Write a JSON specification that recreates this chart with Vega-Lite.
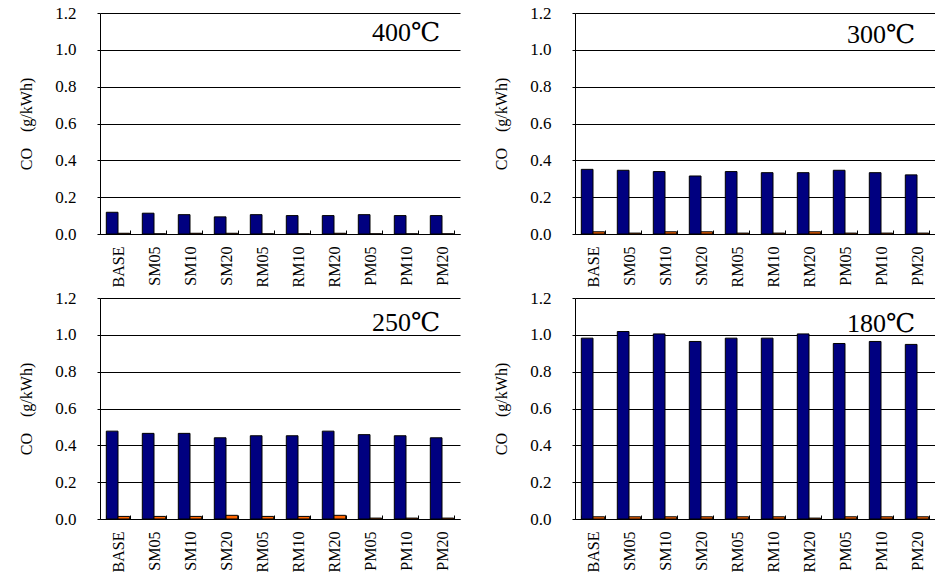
{
  "$schema": "https://vega.github.io/schema/vega-lite/v6.json",
  "padding": {"left": 18, "top": 4, "right": 0, "bottom": 0},
  "background": "white",
  "config": {
    "view": {"stroke": null},
    "font": "Liberation Serif, Times New Roman, DejaVu Serif, serif",
    "text": {"font": "Liberation Serif, Times New Roman, DejaVu Serif, serif"},
    "axisX": {
      "domainColor": "black", "domainWidth": 1, "ticks": true, "tickColor": "black", "tickBand": "extent", "tickSize": -4,
      "labelAngle": 270, "labelAlign": "right", "labelBaseline": "middle", "labelFont": "Liberation Serif, Times New Roman, DejaVu Serif, serif", "labelFontSize": 16, "labelColor": "black",
      "labelPadding": 16, "grid": false
    },
    "axisY": {
      "domainColor": "black", "domainWidth": 1, "ticks": true, "tickSize": 3, "tickColor": "black", "grid": true, "gridColor": "black", "gridOpacity": 1, "gridWidth": 1,
      "labelFont": "Liberation Serif, Times New Roman, DejaVu Serif, serif", "labelFontSize": 17, "labelColor": "black", "labelPadding": 21,
      "titleFont": "Liberation Serif, Times New Roman, DejaVu Serif, serif", "titleFontSize": 16, "titleFontWeight": "normal", "titleColor": "black", "titlePadding": 20
    }
  },
  "datasets": {
    "co": [
      {"panel": "400", "cat": "BASE", "series": "A", "value": 0.118}, {"panel": "400", "cat": "BASE", "series": "B", "value": 0.004},
      {"panel": "400", "cat": "SM05", "series": "A", "value": 0.113}, {"panel": "400", "cat": "SM05", "series": "B", "value": 0.001},
      {"panel": "400", "cat": "SM10", "series": "A", "value": 0.105}, {"panel": "400", "cat": "SM10", "series": "B", "value": 0.004},
      {"panel": "400", "cat": "SM20", "series": "A", "value": 0.093}, {"panel": "400", "cat": "SM20", "series": "B", "value": 0.004},
      {"panel": "400", "cat": "RM05", "series": "A", "value": 0.105}, {"panel": "400", "cat": "RM05", "series": "B", "value": 0.001},
      {"panel": "400", "cat": "RM10", "series": "A", "value": 0.100}, {"panel": "400", "cat": "RM10", "series": "B", "value": 0.001},
      {"panel": "400", "cat": "RM20", "series": "A", "value": 0.100}, {"panel": "400", "cat": "RM20", "series": "B", "value": 0.004},
      {"panel": "400", "cat": "PM05", "series": "A", "value": 0.105}, {"panel": "400", "cat": "PM05", "series": "B", "value": 0.001},
      {"panel": "400", "cat": "PM10", "series": "A", "value": 0.100}, {"panel": "400", "cat": "PM10", "series": "B", "value": 0.001},
      {"panel": "400", "cat": "PM20", "series": "A", "value": 0.100}, {"panel": "400", "cat": "PM20", "series": "B", "value": 0.001},

      {"panel": "300", "cat": "BASE", "series": "A", "value": 0.351}, {"panel": "300", "cat": "BASE", "series": "B", "value": 0.012},
      {"panel": "300", "cat": "SM05", "series": "A", "value": 0.346}, {"panel": "300", "cat": "SM05", "series": "B", "value": 0.005},
      {"panel": "300", "cat": "SM10", "series": "A", "value": 0.339}, {"panel": "300", "cat": "SM10", "series": "B", "value": 0.012},
      {"panel": "300", "cat": "SM20", "series": "A", "value": 0.315}, {"panel": "300", "cat": "SM20", "series": "B", "value": 0.012},
      {"panel": "300", "cat": "RM05", "series": "A", "value": 0.339}, {"panel": "300", "cat": "RM05", "series": "B", "value": 0.005},
      {"panel": "300", "cat": "RM10", "series": "A", "value": 0.333}, {"panel": "300", "cat": "RM10", "series": "B", "value": 0.005},
      {"panel": "300", "cat": "RM20", "series": "A", "value": 0.333}, {"panel": "300", "cat": "RM20", "series": "B", "value": 0.012},
      {"panel": "300", "cat": "PM05", "series": "A", "value": 0.346}, {"panel": "300", "cat": "PM05", "series": "B", "value": 0.005},
      {"panel": "300", "cat": "PM10", "series": "A", "value": 0.333}, {"panel": "300", "cat": "PM10", "series": "B", "value": 0.005},
      {"panel": "300", "cat": "PM20", "series": "A", "value": 0.321}, {"panel": "300", "cat": "PM20", "series": "B", "value": 0.005},

      {"panel": "250", "cat": "BASE", "series": "A", "value": 0.477}, {"panel": "250", "cat": "BASE", "series": "B", "value": 0.014},
      {"panel": "250", "cat": "SM05", "series": "A", "value": 0.465}, {"panel": "250", "cat": "SM05", "series": "B", "value": 0.014},
      {"panel": "250", "cat": "SM10", "series": "A", "value": 0.465}, {"panel": "250", "cat": "SM10", "series": "B", "value": 0.014},
      {"panel": "250", "cat": "SM20", "series": "A", "value": 0.441}, {"panel": "250", "cat": "SM20", "series": "B", "value": 0.020},
      {"panel": "250", "cat": "RM05", "series": "A", "value": 0.452}, {"panel": "250", "cat": "RM05", "series": "B", "value": 0.014},
      {"panel": "250", "cat": "RM10", "series": "A", "value": 0.452}, {"panel": "250", "cat": "RM10", "series": "B", "value": 0.014},
      {"panel": "250", "cat": "RM20", "series": "A", "value": 0.477}, {"panel": "250", "cat": "RM20", "series": "B", "value": 0.020},
      {"panel": "250", "cat": "PM05", "series": "A", "value": 0.458}, {"panel": "250", "cat": "PM05", "series": "B", "value": 0.005},
      {"panel": "250", "cat": "PM10", "series": "A", "value": 0.452}, {"panel": "250", "cat": "PM10", "series": "B", "value": 0.005},
      {"panel": "250", "cat": "PM20", "series": "A", "value": 0.441}, {"panel": "250", "cat": "PM20", "series": "B", "value": 0.005},

      {"panel": "180", "cat": "BASE", "series": "A", "value": 0.982}, {"panel": "180", "cat": "BASE", "series": "B", "value": 0.012},
      {"panel": "180", "cat": "SM05", "series": "A", "value": 1.018}, {"panel": "180", "cat": "SM05", "series": "B", "value": 0.012},
      {"panel": "180", "cat": "SM10", "series": "A", "value": 1.005}, {"panel": "180", "cat": "SM10", "series": "B", "value": 0.012},
      {"panel": "180", "cat": "SM20", "series": "A", "value": 0.964}, {"panel": "180", "cat": "SM20", "series": "B", "value": 0.012},
      {"panel": "180", "cat": "RM05", "series": "A", "value": 0.982}, {"panel": "180", "cat": "RM05", "series": "B", "value": 0.012},
      {"panel": "180", "cat": "RM10", "series": "A", "value": 0.982}, {"panel": "180", "cat": "RM10", "series": "B", "value": 0.012},
      {"panel": "180", "cat": "RM20", "series": "A", "value": 1.005}, {"panel": "180", "cat": "RM20", "series": "B", "value": 0.005},
      {"panel": "180", "cat": "PM05", "series": "A", "value": 0.953}, {"panel": "180", "cat": "PM05", "series": "B", "value": 0.012},
      {"panel": "180", "cat": "PM10", "series": "A", "value": 0.964}, {"panel": "180", "cat": "PM10", "series": "B", "value": 0.012},
      {"panel": "180", "cat": "PM20", "series": "A", "value": 0.948}, {"panel": "180", "cat": "PM20", "series": "B", "value": 0.012}
    ]
  },
  "columns": 2,
  "spacing": {"row": 64, "column": 115},
  "bounds": "flush",
  "concat": [
    {
      "width": 360, "height": 221,
      "layer": [
        {
          "data": {"name": "co"},
          "transform": [{"filter": "datum.panel === '400'"}],
          "mark": {"type": "bar", "stroke": "black", "strokeWidth": 1},
          "encoding": {
            "x": {"field": "cat", "type": "nominal", "scale": {"domain": ["BASE","SM05","SM10","SM20","RM05","RM10","RM20","PM05","PM10","PM20"], "paddingInner": 0.35, "paddingOuter": 0.175}, "axis": {"title": null}},
            "xOffset": {"field": "series", "type": "nominal", "scale": {"domain": ["A","B"]}},
            "y": {"field": "value", "type": "quantitative", "scale": {"domain": [0, 1.2], "nice": false}, "axis": {"title": "CO　(g/kWh)", "values": [0, 0.2, 0.4, 0.6, 0.8, 1.0, 1.2], "format": ".1f", "labelOverlap": false}},
            "color": {"field": "series", "type": "nominal", "scale": {"domain": ["A","B"], "range": ["#000080", "#FF6600"]}, "legend": null}
          }
        },
        {
          "data": {"values": [{"t": "400℃", "cat": "PM10", "v": 1.09}]},
          "mark": {"type": "text", "fontSize": 26, "color": "black"},
          "encoding": {
            "x": {"field": "cat", "type": "nominal", "axis": {"title": null}},
            "y": {"field": "v", "type": "quantitative", "axis": {"title": "CO　(g/kWh)", "values": [0, 0.2, 0.4, 0.6, 0.8, 1.0, 1.2], "format": ".1f", "labelOverlap": false}},
            "text": {"field": "t"}
          }
        }
      ]
    },
    {
      "width": 360, "height": 221,
      "layer": [
        {
          "data": {"name": "co"},
          "transform": [{"filter": "datum.panel === '300'"}],
          "mark": {"type": "bar", "stroke": "black", "strokeWidth": 1},
          "encoding": {
            "x": {"field": "cat", "type": "nominal", "scale": {"domain": ["BASE","SM05","SM10","SM20","RM05","RM10","RM20","PM05","PM10","PM20"], "paddingInner": 0.35, "paddingOuter": 0.175}, "axis": {"title": null}},
            "xOffset": {"field": "series", "type": "nominal", "scale": {"domain": ["A","B"]}},
            "y": {"field": "value", "type": "quantitative", "scale": {"domain": [0, 1.2], "nice": false}, "axis": {"title": "CO　(g/kWh)", "values": [0, 0.2, 0.4, 0.6, 0.8, 1.0, 1.2], "format": ".1f", "labelOverlap": false}},
            "color": {"field": "series", "type": "nominal", "scale": {"domain": ["A","B"], "range": ["#000080", "#FF6600"]}, "legend": null}
          }
        },
        {
          "data": {"values": [{"t": "300℃", "cat": "PM10", "v": 1.08}]},
          "mark": {"type": "text", "fontSize": 26, "color": "black"},
          "encoding": {
            "x": {"field": "cat", "type": "nominal", "axis": {"title": null}},
            "y": {"field": "v", "type": "quantitative", "axis": {"title": "CO　(g/kWh)", "values": [0, 0.2, 0.4, 0.6, 0.8, 1.0, 1.2], "format": ".1f", "labelOverlap": false}},
            "text": {"field": "t"}
          }
        }
      ]
    },
    {
      "width": 360, "height": 221,
      "layer": [
        {
          "data": {"name": "co"},
          "transform": [{"filter": "datum.panel === '250'"}],
          "mark": {"type": "bar", "stroke": "black", "strokeWidth": 1},
          "encoding": {
            "x": {"field": "cat", "type": "nominal", "scale": {"domain": ["BASE","SM05","SM10","SM20","RM05","RM10","RM20","PM05","PM10","PM20"], "paddingInner": 0.35, "paddingOuter": 0.175}, "axis": {"title": null}},
            "xOffset": {"field": "series", "type": "nominal", "scale": {"domain": ["A","B"]}},
            "y": {"field": "value", "type": "quantitative", "scale": {"domain": [0, 1.2], "nice": false}, "axis": {"title": "CO　(g/kWh)", "values": [0, 0.2, 0.4, 0.6, 0.8, 1.0, 1.2], "format": ".1f", "labelOverlap": false}},
            "color": {"field": "series", "type": "nominal", "scale": {"domain": ["A","B"], "range": ["#000080", "#FF6600"]}, "legend": null}
          }
        },
        {
          "data": {"values": [{"t": "250℃", "cat": "PM10", "v": 1.065}]},
          "mark": {"type": "text", "fontSize": 26, "color": "black"},
          "encoding": {
            "x": {"field": "cat", "type": "nominal", "axis": {"title": null}},
            "y": {"field": "v", "type": "quantitative", "axis": {"title": "CO　(g/kWh)", "values": [0, 0.2, 0.4, 0.6, 0.8, 1.0, 1.2], "format": ".1f", "labelOverlap": false}},
            "text": {"field": "t"}
          }
        }
      ]
    },
    {
      "width": 360, "height": 221,
      "layer": [
        {
          "data": {"name": "co"},
          "transform": [{"filter": "datum.panel === '180'"}],
          "mark": {"type": "bar", "stroke": "black", "strokeWidth": 1},
          "encoding": {
            "x": {"field": "cat", "type": "nominal", "scale": {"domain": ["BASE","SM05","SM10","SM20","RM05","RM10","RM20","PM05","PM10","PM20"], "paddingInner": 0.35, "paddingOuter": 0.175}, "axis": {"title": null}},
            "xOffset": {"field": "series", "type": "nominal", "scale": {"domain": ["A","B"]}},
            "y": {"field": "value", "type": "quantitative", "scale": {"domain": [0, 1.2], "nice": false}, "axis": {"title": "CO　(g/kWh)", "values": [0, 0.2, 0.4, 0.6, 0.8, 1.0, 1.2], "format": ".1f", "labelOverlap": false}},
            "color": {"field": "series", "type": "nominal", "scale": {"domain": ["A","B"], "range": ["#000080", "#FF6600"]}, "legend": null}
          }
        },
        {
          "data": {"values": [{"t": "180℃", "cat": "PM10", "v": 1.06}]},
          "mark": {"type": "text", "fontSize": 26, "color": "black"},
          "encoding": {
            "x": {"field": "cat", "type": "nominal", "axis": {"title": null}},
            "y": {"field": "v", "type": "quantitative", "axis": {"title": "CO　(g/kWh)", "values": [0, 0.2, 0.4, 0.6, 0.8, 1.0, 1.2], "format": ".1f", "labelOverlap": false}},
            "text": {"field": "t"}
          }
        }
      ]
    }
  ]
}
